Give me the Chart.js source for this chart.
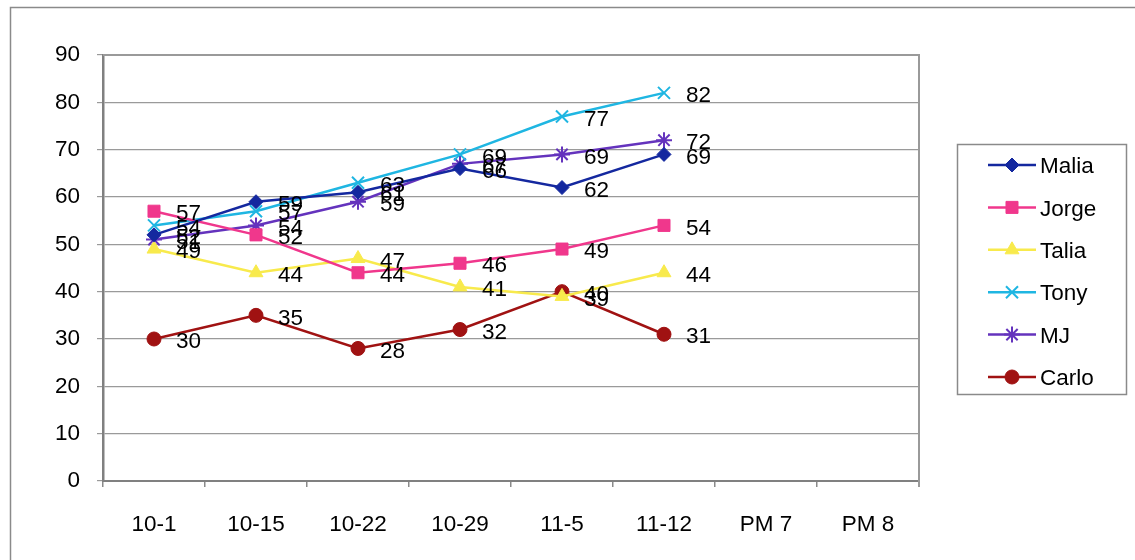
<!DOCTYPE html>
<html>
<head>
<meta charset="utf-8">
<script src="https://cdn.jsdelivr.net/npm/chart.js@4/dist/chart.umd.min.js"></script>
<style>
  html, body { margin: 0; padding: 0; background: #ffffff; }
  #wrap { width: 1135px; height: 560px; position: relative; }
</style>
</head>
<body>
<div id="wrap"><canvas id="chart" width="1135" height="560"></canvas></div>
<script>
// Weekly scores per student
const categories = ['10-1', '10-15', '10-22', '10-29', '11-5', '11-12', 'PM 7', 'PM 8'];
const seriesNames = ['Malia', 'Jorge', 'Talia', 'Tony', 'MJ', 'Carlo'];
const malia = [52, 59, 61, 66, 62, 69];
const jorge = [57, 52, 44, 46, 49, 54];
const talia = [49, 44, 47, 41, 39, 44];
const tony  = [54, 57, 63, 69, 77, 82];
const mj    = [51, 54, 59, 67, 69, 72];
const carlo = [30, 35, 28, 32, 40, 31];
const yTicks = [0, 10, 20, 30, 40, 50, 60, 70, 80, 90];

const FONT = '"Liberation Sans", Arial, sans-serif';
const FONT_SIZE = 22.5;

const styles = [
  { color: '#14289f', point: 'rectRot',  radius: 7 },
  { color: '#f0378c', point: 'rect',     radius: 8.5 },
  { color: '#f8ea4c', point: 'triangle', radius: 8 },
  { color: '#1fb6e2', point: 'crossRot', radius: 8.5 },
  { color: '#6433bd', point: 'star',     radius: 8 },
  { color: '#a01212', point: 'circle',   radius: 7 }
];

const values = [malia, jorge, talia, tony, mj, carlo];

const datasets = seriesNames.map((name, i) => ({
  label: name,
  data: values[i],
  borderColor: styles[i].color,
  backgroundColor: styles[i].color,
  borderWidth: 2.5,
  pointStyle: styles[i].point,
  pointRadius: styles[i].radius,
  pointHoverRadius: styles[i].radius,
  pointBorderWidth: (styles[i].point === 'crossRot' || styles[i].point === 'star') ? 2 : 1,
  pointBackgroundColor: styles[i].color,
  pointBorderColor: styles[i].color,
  tension: 0,
  fill: false
}));

// Value labels beside each point, outer frame, plot border and the keyed legend
const decorations = {
  id: 'decorations',
  beforeDraw(chart) {
    const ctx = chart.ctx;
    ctx.save();
    ctx.fillStyle = '#ffffff';
    ctx.fillRect(0, 0, chart.width, chart.height);
    ctx.strokeStyle = '#8a8a8a';
    ctx.lineWidth = 1.5;
    ctx.beginPath();
    ctx.moveTo(10.5, chart.height);
    ctx.lineTo(10.5, 7.5);
    ctx.lineTo(chart.width, 7.5);
    ctx.stroke();
    ctx.restore();
  },
  beforeDatasetsDraw(chart) {
    const ctx = chart.ctx;
    const a = chart.chartArea;
    ctx.save();
    ctx.strokeStyle = '#9a9a9a';
    ctx.lineWidth = 2;
    ctx.beginPath();
    ctx.moveTo(a.left, a.top);
    ctx.lineTo(a.right, a.top);
    ctx.lineTo(a.right, a.bottom + 6);
    ctx.stroke();
    ctx.restore();
  },
  afterDatasetsDraw(chart) {
    const ctx = chart.ctx;
    ctx.save();
    ctx.font = FONT_SIZE + 'px ' + FONT;
    ctx.fillStyle = '#000000';
    ctx.textAlign = 'left';
    ctx.textBaseline = 'middle';
    chart.data.datasets.forEach((ds, di) => {
      const meta = chart.getDatasetMeta(di);
      meta.data.forEach((pt, j) => {
        ctx.fillText(String(ds.data[j]), pt.x + 22, pt.y + 3);
      });
    });

    // legend
    const box = { x: 957.5, y: 144.5, w: 169, h: 250 };
    ctx.strokeStyle = '#8a8a8a';
    ctx.lineWidth = 1.5;
    ctx.strokeRect(box.x, box.y, box.w, box.h);
    chart.data.datasets.forEach((ds, i) => {
      const cy = 165 + i * 42.4;
      ctx.strokeStyle = ds.borderColor;
      ctx.lineWidth = 2.5;
      ctx.beginPath();
      ctx.moveTo(988, cy);
      ctx.lineTo(1036, cy);
      ctx.stroke();
      ctx.fillStyle = ds.pointBackgroundColor;
      ctx.strokeStyle = ds.pointBorderColor;
      ctx.lineWidth = ds.pointBorderWidth;
      Chart.helpers.drawPoint(ctx, {
        pointStyle: ds.pointStyle,
        radius: ds.pointRadius,
        rotation: 0,
        borderWidth: ds.pointBorderWidth
      }, 1012, cy);
      ctx.fillStyle = '#000000';
      ctx.fillText(ds.label, 1040, cy + 2);
    });
    ctx.restore();
  }
};

new Chart(document.getElementById('chart'), {
  type: 'line',
  data: { labels: categories, datasets: datasets },
  options: {
    responsive: false,
    animation: false,
    events: [],
    layout: { padding: { left: 0, top: 55, right: 216, bottom: 0 } },
    plugins: {
      legend: { display: false },
      tooltip: { enabled: false }
    },
    scales: {
      x: {
        type: 'category',
        offset: true,
        afterFit(scale) { scale.height = 79; },
        grid: {
          offset: true,
          drawOnChartArea: false,
          drawTicks: true,
          tickLength: 6,
          color: '#8a8a8a',
          lineWidth: 1.5
        },
        border: { display: true, color: '#808080', width: 2 },
        ticks: {
          color: '#000000',
          padding: 24,
          maxRotation: 0,
          autoSkip: false,
          font: { family: FONT, size: FONT_SIZE }
        }
      },
      y: {
        min: 0,
        max: 90,
        afterFit(scale) { scale.width = 103; },
        afterBuildTicks(scale) { scale.ticks = yTicks.map(v => ({ value: v })); },
        grid: {
          color: '#9a9a9a',
          lineWidth: 1.2,
          tickLength: 6
        },
        border: { display: true, color: '#808080', width: 2.5 },
        ticks: {
          color: '#000000',
          padding: 17,
          font: { family: FONT, size: FONT_SIZE }
        }
      }
    }
  },
  plugins: [decorations]
});
</script>
</body>
</html>
